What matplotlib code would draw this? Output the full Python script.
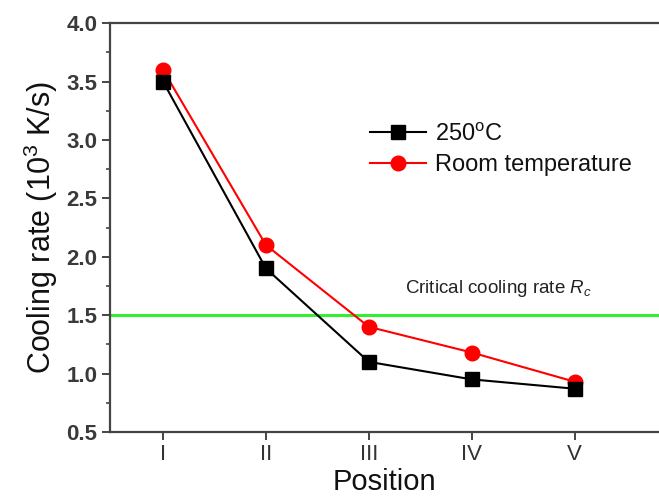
import matplotlib
matplotlib.use("Agg")
import matplotlib.pyplot as plt
from matplotlib.ticker import MultipleLocator

plt.rcParams['font.family'] = ['Liberation Sans', 'DejaVu Sans']
plt.rcParams['mathtext.fontset'] = 'custom'
plt.rcParams['mathtext.rm'] = 'Liberation Sans'
plt.rcParams['mathtext.it'] = 'Liberation Sans:italic'

positions = ["I", "II", "III", "IV", "V"]
x_vals = [1, 2, 3, 4, 5]
rate_250C = [3.5, 1.9, 1.1, 0.95, 0.87]
rate_room = [3.6, 2.1, 1.4, 1.18, 0.93]
critical_rate = 1.5

fig = plt.figure(figsize=(6.59, 5.04), dpi=100)
ax = fig.add_axes([0.167, 0.143, 0.833, 0.811])

ax.axhline(critical_rate, color='#33ee33', lw=2.2, zorder=1)
ax.plot(x_vals, rate_250C, color='black', marker='s', ms=10, lw=1.5, label='250$^{\\mathrm{o}}$C', zorder=3)
ax.plot(x_vals, rate_room, color='red', marker='o', ms=10.5, lw=1.5, label='Room temperature', zorder=2)

ax.set_xlim(0.485, 5.82)
ax.set_ylim(0.5, 4.0)
ax.set_xticks(x_vals)
ax.set_xticklabels(positions)
ax.yaxis.set_major_locator(MultipleLocator(0.5))
ax.yaxis.set_minor_locator(MultipleLocator(0.25))
ax.tick_params(axis='both', which='major', direction='out', length=6, width=1.4, labelsize=16,
               colors='#444444', pad=3)
ax.tick_params(axis='y', which='minor', direction='out', length=3, width=1.2, colors='#444444')
ax.tick_params(axis='x', which='both', top=False)
for lab in ax.get_yticklabels():
    lab.set_color('#3a3a3a')
    lab.set_fontweight('bold')
for lab in ax.get_xticklabels():
    lab.set_color('#333333')
for s in ax.spines.values():
    s.set_linewidth(1.6)
    s.set_color('#444444')
ax.spines['right'].set_visible(False)

ax.set_xlabel('Position', fontsize=21, labelpad=2, color='#111111')
ax.set_ylabel('Cooling rate (10$^3$ K/s)', fontsize=22, labelpad=5, color='#111111')

ax.text(3.35, 1.73, 'Critical cooling rate $R_c$', fontsize=13.5, va='center', color='#222222')

leg = ax.legend(loc='upper left', bbox_to_anchor=(0.561, 0.755), bbox_transform=fig.transFigure,
                frameon=False, fontsize=17, borderpad=0, borderaxespad=0,
                handlelength=2.4, handletextpad=0.35, labelspacing=0.35)
for t in leg.get_texts():
    t.set_color('#111111')

fig.savefig('out.png', dpi=100)
